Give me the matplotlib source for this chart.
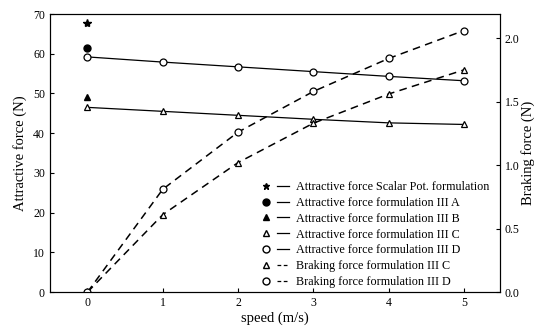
import numpy as np
import matplotlib
matplotlib.use('Agg')
from matplotlib import pyplot as plt
from matplotlib.lines import Line2D
from matplotlib.legend_handler import HandlerTuple

plt.rcParams['font.family'] = ['Liberation Serif', 'DejaVu Serif']

speed = [0, 1, 2, 3, 4, 5]

# attractive force (N), left axis
attr_scalar = [67.8]
attr_A = [61.5]
attr_B = [49.0]
attr_C = [46.5, 45.5, 44.5, 43.5, 42.6, 42.2]
attr_D = [59.2, 57.9, 56.7, 55.5, 54.3, 53.2]

# braking force (N), right axis
brake_C = [0.0, 0.61, 1.02, 1.33, 1.56, 1.75]
brake_D = [0.0, 0.81, 1.26, 1.58, 1.84, 2.06]

labels = ['Attractive force Scalar Pot. formulation',
          'Attractive force formulation III A',
          'Attractive force formulation III B',
          'Attractive force formulation III C',
          'Attractive force formulation III D',
          'Braking force formulation III C',
          'Braking force formulation III D']

fig = plt.figure(figsize=(5.36, 3.26), dpi=100)
ax = fig.add_axes([0.093, 0.104, 0.84, 0.853])
ax2 = ax.twinx()

mk = dict(color='black', markersize=5, markerfacecolor='white', markeredgewidth=0.9)
ax.plot(speed[:1], attr_scalar, linestyle='none', marker='*', color='black', markersize=6)
ax.plot(speed[:1], attr_A, linestyle='none', marker='o', color='black', markersize=5)
ax.plot(speed[:1], attr_B, linestyle='none', marker='^', color='black', markersize=5)
ax.plot(speed, attr_C, linestyle='-', linewidth=0.9, marker='^', **mk)
ax.plot(speed, attr_D, linestyle='-', linewidth=0.9, marker='o', **mk)
ax2.plot(speed, brake_C, linestyle=(0, (5, 3.5)), linewidth=1.1, marker='^', **mk)
ax2.plot(speed, brake_D, linestyle=(0, (5, 3.5)), linewidth=1.1, marker='o', **mk)

ax.set_xlim(-0.5, 5.48)
ax.set_ylim(0, 70)
ax2.set_ylim(0, 2.19)
ax.set_xticks(speed)
ax.set_yticks(np.arange(0, 71, 10))
ax2.set_yticks([0.0, 0.5, 1.0, 1.5, 2.0])
ax2.set_yticklabels(['0.0', '0.5', '1.0', '1.5', '2.0'])

ax.tick_params(direction='in', labelsize=8.5, length=3)
ax2.tick_params(direction='in', labelsize=8.5, length=3)
ax.set_xlabel('speed (m/s)', fontsize=10.5, labelpad=2)
ax.set_ylabel('Attractive force (N)', fontsize=10.5, labelpad=4)
ax2.set_ylabel('Braking force (N)', fontsize=10.5, labelpad=1)

# legend: marker then line, side by side
marks = ['*', 'o', '^', '^', 'o', '^', 'o']
fills = ['black', 'black', 'black', 'white', 'white', 'white', 'white']
styles = ['-', '-', '-', '-', '-', (0, (3, 2)), (0, (3, 2))]
handles = []
for m, f, s in zip(marks, fills, styles):
    h1 = Line2D([], [], linestyle='none', marker=m, color='black',
                markerfacecolor=f, markersize=5)
    h2 = Line2D([], [], linestyle=s, color='black', linewidth=0.9)
    handles.append((h1, h2))
ax2.legend(handles, labels, handler_map={tuple: HandlerTuple(ndivide=None, pad=0.4)},
           loc='lower right', bbox_to_anchor=(1.0, -0.025), frameon=False, fontsize=8.7,
           handlelength=2.4, labelspacing=0.32, handletextpad=0.6)

fig.savefig('out.png', dpi=100)
